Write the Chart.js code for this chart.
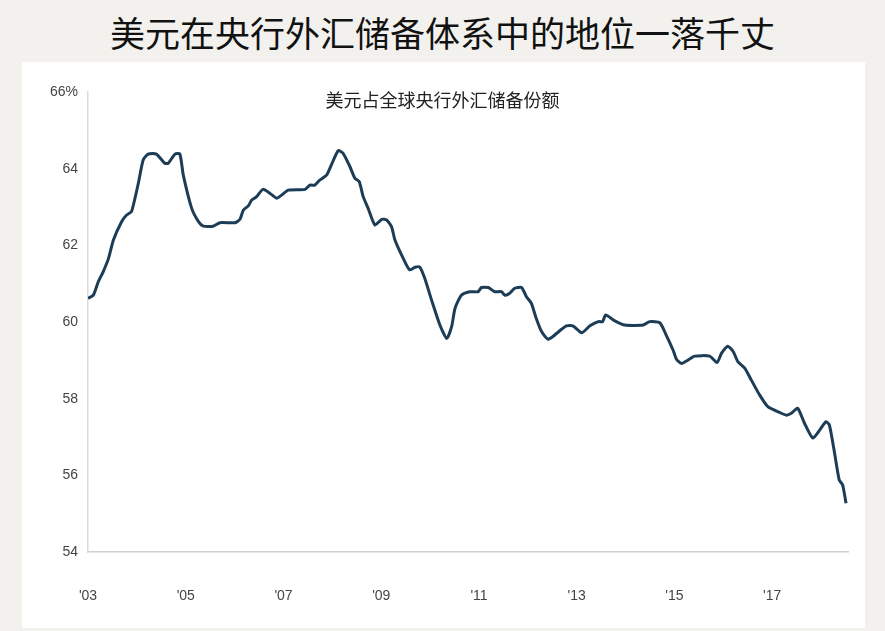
<!DOCTYPE html>
<html>
<head>
<meta charset="utf-8">
<script src="https://cdn.jsdelivr.net/npm/chart.js@4"></script>
<style>
  body { margin:0; width:885px; height:631px; background:#f3f1ed; position:relative; overflow:hidden;
         font-family:"Noto Sans CJK SC", "Noto Sans", sans-serif; }
  #title { position:absolute; top:6px; left:0; width:885px; text-align:center; font-size:35px; color:#111; }
  #panel { position:absolute; left:22px; top:62px; width:843px; height:566px; background:#fff; }
  #sub { position:absolute; top:86px; left:0; width:885px; text-align:center; font-size:18px; color:#222; }
  #wrap { position:absolute; left:0; top:0; width:885px; height:631px; }
</style>
</head>
<body>
<div id="title">美元在央行外汇储备体系中的地位一落千丈</div>
<div id="panel"></div>
<div id="wrap"><canvas id="c"></canvas></div>
<div id="sub">美元占全球央行外汇储备份额</div>
<script>
// 美元份额 (%), x = 年份
const years = [2003.0,2003.11,2003.21,2003.31,2003.42,2003.52,2003.69,2003.79,2003.89,2004.03,2004.13,2004.23,2004.40,2004.57,2004.64,2004.78,2004.88,2004.95,2005.12,2005.26,2005.36,2005.56,2005.70,2006.01,2006.11,2006.18,2006.28,2006.35,2006.45,2006.58,2006.72,2006.86,2006.96,2007.10,2007.44,2007.54,2007.64,2007.74,2007.88,2007.98,2008.12,2008.22,2008.36,2008.46,2008.55,2008.63,2008.73,2008.87,2009.01,2009.11,2009.21,2009.28,2009.45,2009.58,2009.69,2009.79,2009.89,2010.03,2010.20,2010.34,2010.44,2010.51,2010.64,2010.81,2010.98,2011.05,2011.19,2011.32,2011.46,2011.53,2011.63,2011.73,2011.87,2011.97,2012.07,2012.17,2012.28,2012.41,2012.51,2012.69,2012.79,2012.92,2013.10,2013.27,2013.44,2013.53,2013.59,2013.78,2013.98,2014.36,2014.49,2014.70,2014.83,2014.97,2015.04,2015.14,2015.28,2015.41,2015.72,2015.87,2015.96,2016.09,2016.20,2016.30,2016.44,2016.57,2016.74,2016.91,2017.15,2017.29,2017.39,2017.52,2017.66,2017.83,2017.97,2018.10,2018.17,2018.27,2018.37,2018.44,2018.51];
const share = [60.62,60.70,61.05,61.31,61.66,62.14,62.62,62.79,62.88,63.62,64.23,64.38,64.38,64.14,64.14,64.38,64.38,63.83,62.97,62.62,62.50,62.50,62.59,62.59,62.68,62.92,63.03,63.18,63.27,63.46,63.36,63.23,63.31,63.44,63.46,63.57,63.57,63.70,63.83,64.10,64.47,64.40,64.05,63.75,63.66,63.27,62.97,62.53,62.68,62.66,62.49,62.14,61.66,61.36,61.43,61.43,61.14,60.57,59.92,59.57,59.88,60.36,60.70,60.79,60.79,60.90,60.90,60.79,60.79,60.70,60.75,60.88,60.90,60.66,60.49,60.10,59.75,59.55,59.62,59.81,59.90,59.90,59.72,59.90,60.01,60.01,60.18,60.03,59.92,59.92,60.01,59.98,59.66,59.27,59.03,58.92,59.01,59.11,59.11,58.94,59.18,59.37,59.23,58.96,58.79,58.49,58.10,57.79,57.64,57.57,57.62,57.75,57.36,56.97,57.18,57.40,57.31,56.62,55.88,55.75,55.27];
const yTicks = [54,56,58,60,62,64,66];

new Chart(document.getElementById('c'), {
  type: 'line',
  data: { datasets: [{
    data: years.map((y, i) => ({x: y, y: share[i]})),
    borderColor: '#1d3d57', borderWidth: 3, pointRadius: 0, tension: 0.2, fill: false
  }]},
  options: {
    responsive: true, maintainAspectRatio: false, animation: false,
    layout: { padding: { top: 92, right: 37, left: 0, bottom: 0 } },
    plugins: { legend: { display: false }, tooltip: { enabled: false } },
    scales: {
      x: {
        type: 'linear', min: 2003, max: 2018.55,
        afterBuildTicks: s => { s.ticks = [2003,2005,2007,2009,2011,2013,2015,2017].map(v => ({value: v})); },
        ticks: { callback: v => "'" + String(v).slice(2), color: '#444', font: { size: 14 }, padding: 36, maxRotation: 0 },
        grid: { display: false, drawTicks: false },
        border: { color: '#cfcfcf', width: 1.5 },
        afterFit: s => { s.height = 79; }
      },
      y: {
        min: 54, max: 66,
        afterBuildTicks: s => { s.ticks = yTicks.map(v => ({value: v})); },
        ticks: { callback: v => v === 66 ? v + '%' : v, color: '#444', font: { size: 14 }, padding: 10 },
        grid: { display: false, drawTicks: false },
        border: { color: '#dcdcdc', width: 1.5 },
        afterFit: s => { s.width = 88; }
      }
    }
  }
});
</script>
</body>
</html>
